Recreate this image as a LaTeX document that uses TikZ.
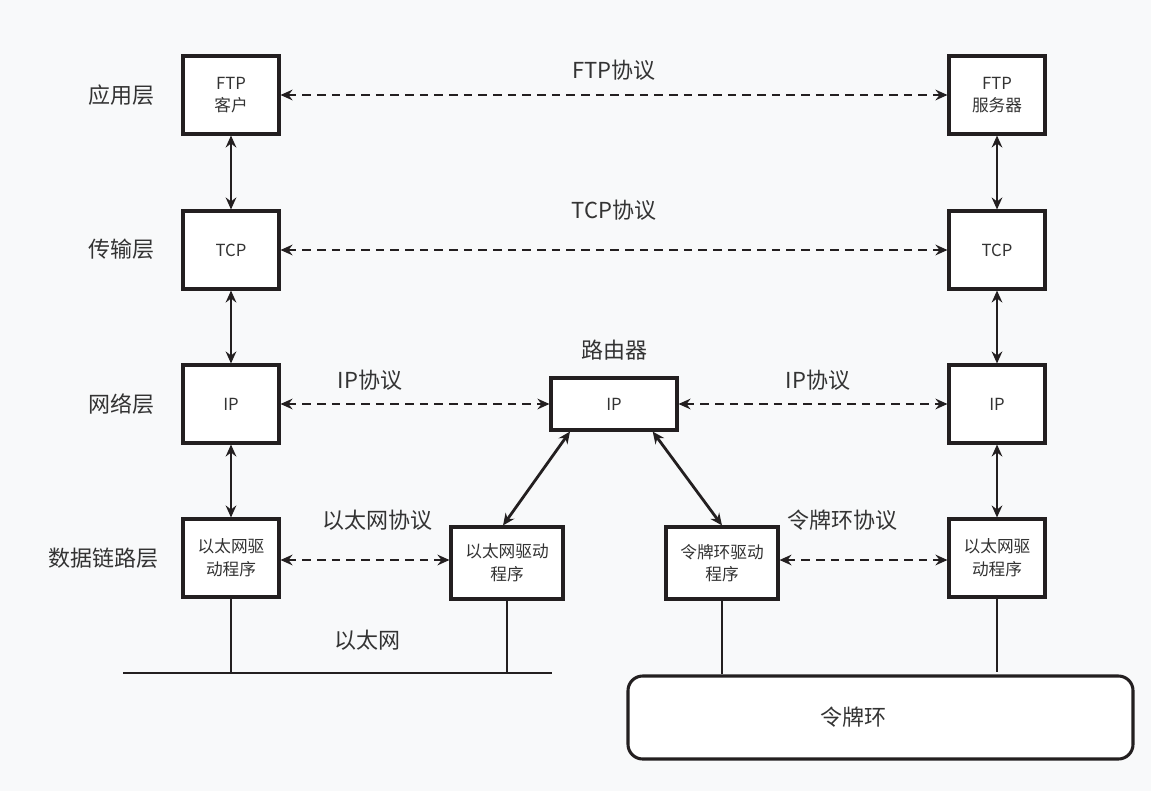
\documentclass[tikz,border=0pt]{standalone}
\usepackage{fontspec}
\setmainfont{Noto Sans CJK SC}
\usetikzlibrary{arrows.meta}
\definecolor{bg}{HTML}{F8F9FA}
\definecolor{ink}{HTML}{231F20}
\definecolor{txt}{HTML}{333333}
\begin{document}
\begin{tikzpicture}[x=0.75pt,y=-0.75pt,
  box/.style={draw=ink,line width=2.3pt,fill=white,align=center,text=txt,
    font=\fontsize{12.5}{17}\selectfont,inner sep=0pt},
  sbox/.style={box,minimum width=72pt,minimum height=58.5pt},
  mbox/.style={box,minimum width=84pt,minimum height=54pt},
  lbl/.style={text=txt,font=\fontsize{16.5}{20}\selectfont,inner sep=0pt},
  tip/.tip={Stealth[length=9pt,width=8pt,inset=3pt]},
  da/.style={ink,line width=2.1pt,dash pattern=on 6.5pt off 4.5pt,tip-tip},
  sa/.style={ink,line width=2.1pt,tip-tip},
  wire/.style={ink,line width=2pt}]
\fill[bg] (0,0) rectangle (1151,791);
\useasboundingbox (0,0) rectangle (1151,791);
% layer labels
\node[lbl] (l1) at (121,95) {应用层};
\node[lbl] (l2) at (121,249) {传输层};
\node[lbl] (l3) at (121,404) {网络层};
\node[lbl] (l4) at (103,558) {数据链路层};
% left host
\node[sbox] (ftpc) at (231,95) {FTP\\客户};
\node[sbox] (tcpl) at (231,250) {TCP};
\node[sbox] (ipl) at (231,404) {IP};
\node[sbox] (ethl) at (231,558) {以太网驱\\动程序};
% right host
\node[sbox] (ftps) at (997,95) {FTP\\服务器};
\node[sbox] (tcpr) at (997,250) {TCP};
\node[sbox] (ipr) at (997,404) {IP};
\node[sbox] (ethr) at (997,558) {以太网驱\\动程序};
% router
\node[box,minimum width=94.5pt,minimum height=39pt] (ipm) at (614,404) {IP};
\node[mbox] (ethm) at (507,563) {以太网驱动\\程序};
\node[mbox] (tokm) at (722,563) {令牌环驱动\\程序};
\node[lbl] (rt) at (614,350) {路由器};
% protocol labels
\node[lbl] (pftp) at (614,70) {FTP协议};
\node[lbl] (ptcp) at (614,210) {TCP协议};
\node[lbl] (pipl) at (370,380) {IP协议};
\node[lbl] (pipr) at (818,380) {IP协议};
\node[lbl] (peth) at (377,520) {以太网协议};
\node[lbl] (ptok) at (842,520) {令牌环协议};
\node[lbl] (neth) at (367,640) {以太网};
% token ring
\node[draw=ink,line width=2.3pt,fill=white,rounded corners=11pt,minimum width=378.75pt,minimum height=62.25pt] (ring) at (880.5,717.5) {};
\node[lbl] (ringt) at (853,717) {令牌环};
% ethernet bus
\coordinate (busl) at (123,673);
\coordinate (busr) at (552,673);
\draw[wire] (busl) -- (busr);
\draw[wire] (ethl.south) -- (ethl.south |- busl);
\draw[wire] (ethm.south) -- (ethm.south |- busl);
\draw[wire] (tokm.south) -- (tokm.south |- ring.north);
\coordinate (rend) at (997,672);
\draw[wire] (ethr.south) -- (rend);
% peer dashed arrows
\draw[da] (ftpc.east) -- (ftps.west);
\draw[da] (tcpl.east) -- (tcpr.west);
\draw[da] (ipl.east) -- (ipm.west);
\draw[da] (ipm.east) -- (ipr.west);
\draw[da] ([yshift=-1.5pt]ethl.east) -- ([yshift=-1.5pt]ethl.east -| ethm.west);
\draw[da] ([yshift=-1.5pt]ethr.east -| tokm.east) -- ([yshift=-1.5pt]ethr.west);
% vertical stacks
\draw[sa] (ftpc.south) -- (tcpl.north);
\draw[sa] (tcpl.south) -- (ipl.north);
\draw[sa] (ipl.south) -- (ethl.north);
\draw[sa] (ftps.south) -- (tcpr.north);
\draw[sa] (tcpr.south) -- (ipr.north);
\draw[sa] (ipr.south) -- (ethr.north);
% router to drivers
\draw[sa] ([xshift=-33pt]ipm.south) -- ([xshift=-3pt]ethm.north);
\draw[sa] ([xshift=29pt]ipm.south) -- (tokm.north);
\end{tikzpicture}
\end{document}
